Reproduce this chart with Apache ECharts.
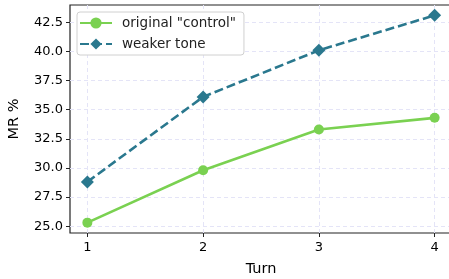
<!DOCTYPE html>
<html>
<head>
<meta charset="utf-8">
<script src="https://cdn.jsdelivr.net/npm/echarts@6/dist/echarts.min.js"></script>
<style>
html,body{margin:0;padding:0;background:#fff;}
#chart{width:449px;height:279px;}
</style>
</head>
<body>
<div id="chart"></div>
<script>
// data
var turns = [1, 2, 3, 4];
var controlVals = [25.3, 29.8, 33.3, 34.3];
var weakerVals = [28.8, 36.1, 40.1, 43.1];
var yTicks = [25, 27.5, 30, 32.5, 35, 37.5, 40, 42.5];

function pairs(xs, ys) {
	var out = [];
	for (var i = 0; i < xs.length; i++) {
		out.push([xs[i], ys[i]]);
	}
	return out;
}

var font = 'DejaVu Sans';
var gridLine = {show: true, lineStyle: {color: '#e4e4f7', type: [4, 3], width: 1}};

var myChart = echarts.init(document.getElementById('chart'), null, {renderer: 'canvas'});
var option = {
	animation: false,
	backgroundColor: '#fff',
	grid: {left: 70, top: 5, right: -3, bottom: 46, show: true, borderColor: '#222', borderWidth: 1.2,
		outerBoundsMode: 'none', containLabel: false},
	legend: {
		left: 77, top: 12,
		orient: 'vertical',
		itemWidth: 32, itemHeight: 14, itemGap: 7,
		padding: [4, 8, 4, 2],
		backgroundColor: '#fff',
		borderColor: '#d0d0d0', borderWidth: 1, borderRadius: 3,
		textStyle: {fontFamily: font, fontSize: 13.5, color: '#222', padding: [0, 0, 0, 5]},
		data: ['original "control"', 'weaker tone']
	},
	xAxis: {
		type: 'value', min: 0.85, max: 4.15,
		name: 'Turn', nameLocation: 'middle', nameGap: 29,
		nameTextStyle: {fontFamily: font, fontSize: 14.5, color: '#000'},
		axisLine: {show: false},
		axisTick: {show: true, length: 4, customValues: turns, lineStyle: {color: '#222'}},
		axisLabel: {customValues: turns, fontFamily: font, fontSize: 13, color: '#000', margin: 8},
		splitLine: Object.assign({customValues: turns}, gridLine)
	},
	yAxis: {
		type: 'value', min: 24.41, max: 43.99,
		name: 'MR %', nameLocation: 'middle', nameGap: 48,
		nameTextStyle: {fontFamily: font, fontSize: 14.5, color: '#000'},
		axisLine: {show: false},
		axisTick: {show: true, length: 4, customValues: yTicks, lineStyle: {color: '#222'}},
		axisLabel: {customValues: yTicks, fontFamily: font, fontSize: 13, color: '#000', margin: 7,
			formatter: function (v) { return v.toFixed(1); }},
		splitLine: Object.assign({customValues: yTicks}, gridLine)
	},
	series: [
		{
			name: 'original "control"', type: 'line',
			data: pairs(turns, controlVals),
			symbol: 'circle', symbolSize: 10,
			itemStyle: {color: '#7ad151'},
			lineStyle: {color: '#7ad151', width: 2.6}
		},
		{
			name: 'weaker tone', type: 'line',
			data: pairs(turns, weakerVals),
			symbol: 'diamond', symbolSize: 13,
			itemStyle: {color: '#2a788e'},
			lineStyle: {color: '#2a788e', width: 2.6, type: [9, 4]}
		}
	]
};
myChart.setOption(option);
</script>
</body>
</html>
